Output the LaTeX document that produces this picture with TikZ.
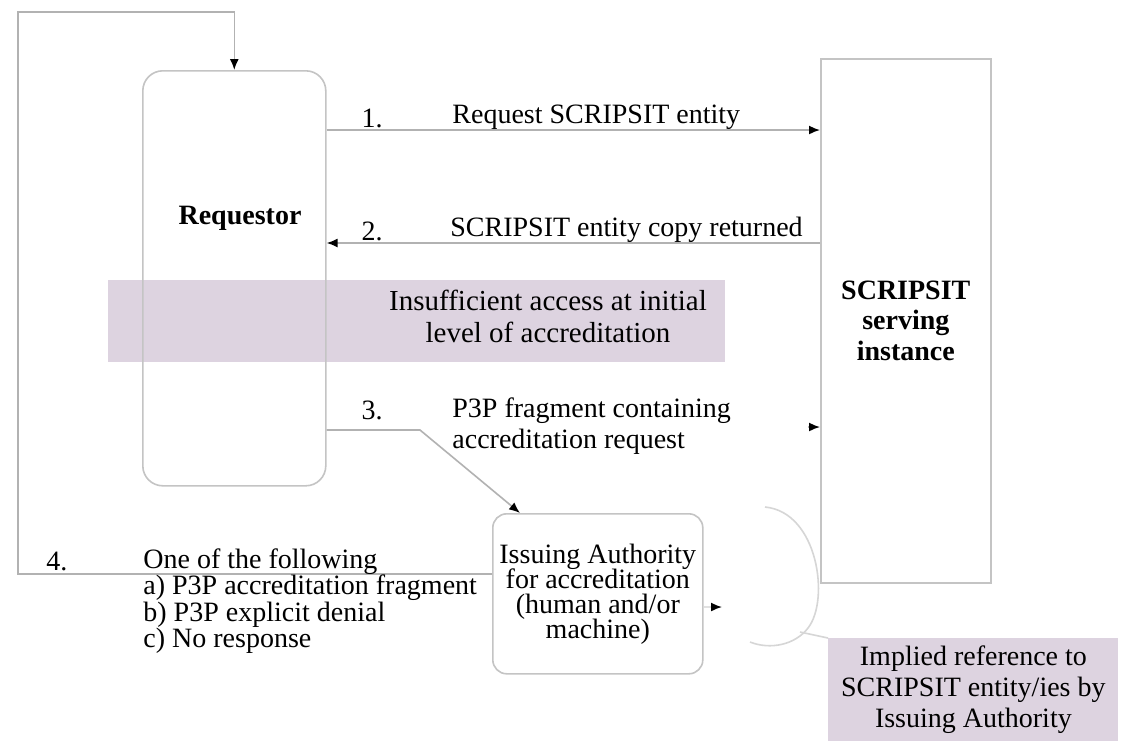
\documentclass[tikz,border=0pt]{standalone}
\usepackage{fontspec}
\setmainfont{Liberation Serif}
\usepackage{tikz}
\usetikzlibrary{calc}
\usetikzlibrary{arrows.meta}
\usetikzlibrary{positioning}

\definecolor{lineGray}{RGB}{178,178,178}
\definecolor{boxGray}{RGB}{196,196,196}
\definecolor{bandLilac}{RGB}{221,211,224}

\newcommand\tightlines{\lineskiplimit=-10pt\relax}

\tikzset{
  box/.style={rectangle, draw=boxGray, line width=0.8pt, inner sep=1pt},
  flow/.style={draw=lineGray, line width=0.8pt, -{Latex[black,length=5.5pt,width=4.5pt]}},
  txt/.style={inner sep=0pt, font=\fontsize{14}{15}\selectfont},
  tighttxt/.style={inner sep=0pt, font=\fontsize{14}{12.5}\selectfont\tightlines},
  boldtxt/.style={inner sep=0pt, font=\fontsize{14}{15.2}\selectfont\bfseries},
}

\begin{document}
\begin{tikzpicture}[x=0.5pt, y=-0.5pt]
\useasboundingbox (0,0) rectangle (1123,741);
\fill[white] (0,0) rectangle (1123,741);

% shaded note across the requestor
\node at (108,280)[rectangle, fill=bandLilac, inner sep=0pt, minimum width=308.5pt, minimum height=41pt, anchor=north west] (band) {};
\node at (548,316)[txt, align=center, font=\fontsize{14.5}{16}\selectfont] (bandtxt) {Insufficient access at initial\\level of accreditation};

% main boxes
\node at (142,70)[box, rounded corners=10pt, minimum width=91.5pt, minimum height=207.5pt, anchor=north west] (req) {};
\node at (240,218)[boldtxt] (reqtxt) {Requestor};
\node at (820,58)[box, minimum width=85pt, minimum height=262pt, anchor=north west, align=center, boldtxt] (scr) {SCRIPSIT\\serving\\instance};
\node at (492,513)[box, rounded corners=7pt, minimum width=105pt, minimum height=80pt, anchor=north west, align=center, tighttxt] (iss) {Issuing Authority\\for accreditation\\(human and/or\\machine)};
\node at (828,638)[rectangle, fill=bandLilac, inner sep=0pt, minimum width=145pt, minimum height=51.5pt, anchor=north west, align=center, font=\fontsize{14}{15.5}\selectfont] (impl) {Implied reference to\\SCRIPSIT entity/ies by\\Issuing Authority};

% 1. request
\coordinate (y1) at (0,130);
\draw[flow] (req.east |- y1) -- (scr.west |- y1);
\node at (372,118)[txt] (n1) {1.};
\node at (452,117)[txt, anchor=west] (l1) {Request SCRIPSIT entity};

% 2. copy returned
\coordinate (y2) at (0,243);
\draw[flow] (scr.west |- y2) -- (req.east |- y2);
\node at (372,231)[txt] (n2) {2.};
\node at (450,230)[txt, anchor=west] (l2) {SCRIPSIT entity copy returned};

% 3. accreditation request
\coordinate (k3) at (420,430);
\coordinate (t3) at (808,427);
\draw[flow] (req.east |- k3) -- (k3) -- ($(iss.north west)+(28,0)$);
\draw[flow] (t3) -- (scr.west |- t3);
\node at (372,410)[txt] (n3) {3.};
\node at (452,426)[txt, anchor=west, align=left, font=\fontsize{14}{15.5}\selectfont] (l3) {P3P fragment containing\\accreditation request};

% 4. answer back to the requestor
\coordinate (c4) at (18,574);
\coordinate (c5) at (18,12);
\draw[flow] (iss.west |- c4) -- (c4) -- (c5) -| (req.north);
\node at (57,561)[txt] (n4) {4.};
\node at (143,601)[inner sep=0pt, font=\fontsize{14}{13.2}\selectfont\tightlines, anchor=west, align=left] (l4) {One of the following\\a) P3P accreditation fragment\\b) P3P explicit denial\\c) No response};

% implied reference callout
\coordinate (t4) at (722,607);
\draw[flow, draw=lineGray!40] (iss.east |- t4) -- (t4);
\draw[boxGray!70, line width=0.8pt] (765,507) .. controls (818,512) and (830,600) .. (808,628) .. controls (795,645) and (770,650) .. (750,642);
\draw[boxGray!70, line width=0.8pt] (800,632) -- (impl.north west);

\end{tikzpicture}
\end{document}
